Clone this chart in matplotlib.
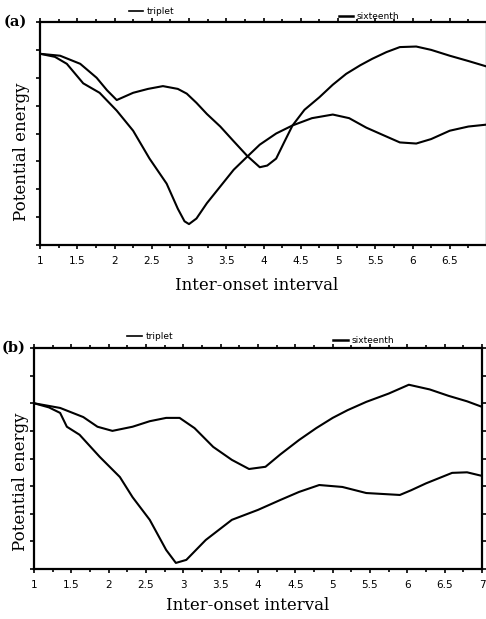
import matplotlib
matplotlib.use("Agg")
import matplotlib.pyplot as plt
from matplotlib.lines import Line2D
from matplotlib.ticker import MultipleLocator, NullFormatter

# === panel (a) curves ===
a_curve1_x = [1.0, 1.27, 1.54, 1.76, 1.9, 2.03, 2.25, 2.45, 2.65, 2.85, 2.97, 3.1, 3.24, 3.42, 3.59, 3.78, 3.95, 4.05, 4.17, 4.28, 4.39, 4.55, 4.75, 4.93, 5.11, 5.3, 5.46, 5.65, 5.83, 6.05, 6.25, 6.5, 6.75, 7.0]
a_curve1_y = [6.86, 6.79, 6.5, 6.0, 5.55, 5.2, 5.46, 5.6, 5.7, 5.6, 5.43, 5.1, 4.7, 4.25, 3.75, 3.2, 2.79, 2.85, 3.1, 3.7, 4.29, 4.85, 5.3, 5.75, 6.14, 6.45, 6.68, 6.92, 7.1, 7.12, 7.0, 6.79, 6.6, 6.4]

a_curve2_x = [1.0, 1.2, 1.36, 1.58, 1.8, 2.03, 2.25, 2.47, 2.7, 2.85, 2.94, 3.0, 3.1, 3.24, 3.45, 3.6, 3.77, 3.95, 4.17, 4.39, 4.65, 4.93, 5.15, 5.38, 5.6, 5.83, 6.05, 6.25, 6.5, 6.75, 7.0]
a_curve2_y = [6.86, 6.75, 6.5, 5.8, 5.46, 4.82, 4.1, 3.1, 2.2, 1.3, 0.85, 0.75, 0.95, 1.5, 2.2, 2.7, 3.14, 3.6, 4.0, 4.29, 4.55, 4.68, 4.55, 4.21, 3.95, 3.68, 3.64, 3.8, 4.1, 4.25, 4.32]

# === panel (b) curves ===
b_curve1_x = [1.0, 1.35, 1.66, 1.85, 2.05, 2.32, 2.55, 2.77, 2.95, 3.15, 3.4, 3.65, 3.88, 4.1, 4.3, 4.55, 4.78, 5.0, 5.2, 5.45, 5.75, 6.02, 6.3, 6.55, 6.8, 7.0]
b_curve1_y = [6.0, 5.83, 5.5, 5.15, 5.0, 5.15, 5.35, 5.47, 5.47, 5.1, 4.42, 3.95, 3.62, 3.7, 4.15, 4.67, 5.1, 5.47, 5.75, 6.05, 6.35, 6.67, 6.5, 6.27, 6.07, 5.87]

b_curve2_x = [1.0, 1.2, 1.35, 1.44, 1.61, 1.88, 2.15, 2.32, 2.55, 2.77, 2.9, 3.04, 3.3, 3.65, 4.0, 4.3, 4.55, 4.82, 5.13, 5.45, 5.9, 6.05, 6.25, 6.6, 6.8, 7.0]
b_curve2_y = [6.0, 5.85, 5.65, 5.15, 4.86, 4.06, 3.33, 2.6, 1.78, 0.69, 0.22, 0.33, 1.05, 1.78, 2.14, 2.5, 2.79, 3.04, 2.97, 2.75, 2.68, 2.85, 3.1, 3.48, 3.5, 3.37]

legend_names = ["triplet", "sixteenth"]
# panel (a) is cropped on the right, so its "7" label is not visible
a_ticks = [1, 1.5, 2, 2.5, 3, 3.5, 4, 4.5, 5, 5.5, 6, 6.5]
a_ticklabels = ["1", "1.5", "2", "2.5", "3", "3.5", "4", "4.5", "5", "5.5", "6", "6.5"]
b_ticks = [1, 1.5, 2, 2.5, 3, 3.5, 4, 4.5, 5, 5.5, 6, 6.5, 7]
b_ticklabels = ["1", "1.5", "2", "2.5", "3", "3.5", "4", "4.5", "5", "5.5", "6", "6.5", "7"]

W, H = 486, 619
fig = plt.figure(figsize=(W / 100, H / 100), dpi=100)

def px_axes(left, right, top, bottom):
    return fig.add_axes([left / W, 1 - bottom / H, (right - left) / W, (bottom - top) / H])

serif = "DejaVu Serif"

def style(ax, tag, tag_x, ticks, labels, legend_pos, xlab_xy, ylab_xy):
    ax.set_xlim(1, 7)
    ax.set_ylim(0, 8)
    ax.set_xticks(ticks)
    ax.set_xticklabels(labels, fontsize=7.5, family="DejaVu Sans")
    ax.xaxis.set_minor_locator(MultipleLocator(0.25))
    ax.yaxis.set_major_locator(MultipleLocator(1))
    ax.yaxis.set_major_formatter(NullFormatter())
    ax.tick_params(axis="x", which="both", direction="out", length=3, width=1.2, pad=5, top=True)
    ax.tick_params(axis="x", which="minor", length=2)
    ax.tick_params(axis="y", direction="out", length=3, width=1.2, right=True)
    for s in ax.spines.values():
        s.set_linewidth(1.6)
    # axis titles placed by pixel centre, as in the scan
    fig.text(xlab_xy[0] / W, 1 - xlab_xy[1] / H, "Inter-onset interval", family=serif,
             fontsize=12, ha="center", va="center")
    fig.text(ylab_xy[0] / W, 1 - ylab_xy[1] / H, "Potential energy", family=serif,
             fontsize=12, ha="center", va="center", rotation=90)
    ax.text(tag_x, 1.0, tag, transform=ax.transAxes, family=serif, fontsize=10.5,
            fontweight="bold", ha="center", va="center")
    handles = [Line2D([], [], color="black", lw=1.2),
               Line2D([], [], color="black", lw=1.8)]
    leg1 = ax.legend([handles[0]], [legend_names[0]], loc="center left",
                     bbox_to_anchor=legend_pos[0], frameon=False, fontsize=6.5,
                     handlelength=1.6, handletextpad=0.4, borderaxespad=0)
    ax.add_artist(leg1)
    ax.legend([handles[1]], [legend_names[1]], loc="center left",
              bbox_to_anchor=legend_pos[1], frameon=False, fontsize=6.5,
              handlelength=1.6, handletextpad=0.4, borderaxespad=0)

ax1 = px_axes(40, 487, 22, 245)
ax1.plot(a_curve1_x, a_curve1_y, color="black", lw=1.5)
ax1.plot(a_curve2_x, a_curve2_y, color="black", lw=1.5)
style(ax1, "(a)", -0.055, a_ticks, a_ticklabels, [(0.19, 1.045), (0.66, 1.025)],
      (257, 285), (22, 152))

ax2 = px_axes(34, 482, 348, 569)
ax2.plot(b_curve1_x, b_curve1_y, color="black", lw=1.5)
ax2.plot(b_curve2_x, b_curve2_y, color="black", lw=1.5)
style(ax2, "(b)", -0.045, b_ticks, b_ticklabels, [(0.2, 1.05), (0.66, 1.035)],
      (248, 606), (21, 482))

fig.savefig("out.png", dpi=100)
